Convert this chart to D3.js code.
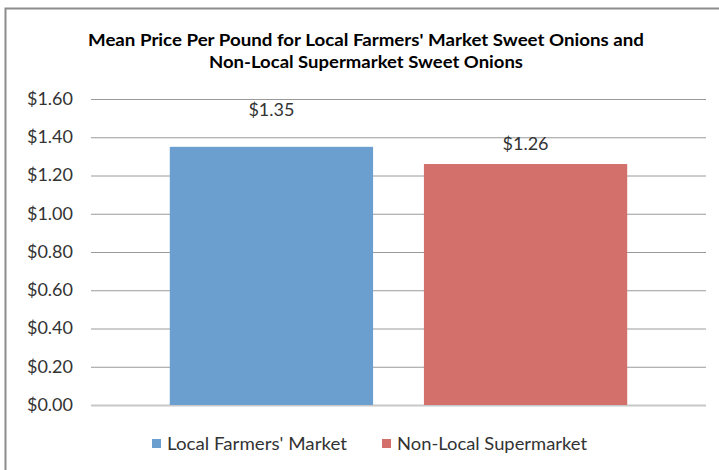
<!DOCTYPE html>
<html>
<head>
<meta charset="utf-8">
<script src="https://cdn.jsdelivr.net/npm/d3@7"></script>
<style>
  body { margin: 0; background: #fff; }
  svg { display: block; font-family: Lato, "Open Sans", sans-serif; }
</style>
</head>
<body>
<svg id="chart" width="719" height="470"></svg>
<script>
// data
let categories = ["Local Farmers' Market", "Non-Local Supermarket"];
let prices = [1.35, 1.26];
let colors = ["#6b9fcf", "#d4706b"];
let yTicks = [0, 0.2, 0.4, 0.6, 0.8, 1.0, 1.2, 1.4, 1.6];
let titleLines = ["Mean Price Per Pound for Local Farmers' Market Sweet Onions and",
                  "Non-Local Supermarket Sweet Onions"];

// styling bits (label offsets above bar tops, text widths to mimic Calibri spacing)
let labelGap = [31, 14];
let titleWidths = [556, 314];
let legendWidths = [180, 190];

let svg = d3.select('#chart');

// outer frame (right and bottom edges fall off the picture)
svg.append('rect')
    .attr('x', 5.5).attr('y', 8.5)
    .attr('width', 740).attr('height', 500)
    .attr('fill', '#fff')
    .attr('stroke', '#8c8c8c')
    .attr('stroke-width', 2);

let plotLeft = 91, plotRight = 706;
let y = d3.scaleLinear().domain([0, 1.6]).range([405, 99]);
let x = d3.scaleBand().domain(categories).range([plotLeft, plotRight])
    .paddingInner(0.2).paddingOuter(0.31);

// title
svg.append('g').selectAll('text')
    .data(titleLines)
    .join('text')
    .attr('x', 366)
    .attr('y', (d, i) => 46 + i * 22)
    .attr('text-anchor', 'middle')
    .attr('font-size', 17)
    .attr('font-weight', 'bold')
    .attr('fill', '#000')
    .attr('textLength', (d, i) => titleWidths[i])
    .attr('lengthAdjust', 'spacingAndGlyphs')
    .text(d => d);

// gridlines + y labels
let yAxis = d3.axisLeft(y)
    .tickValues(yTicks)
    .tickSize(-(plotRight - plotLeft))
    .tickPadding(18)
    .tickFormat(d => '$' + d.toFixed(2));

let gy = svg.append('g')
    .attr('transform', 'translate(' + plotLeft + ',0)')
    .call(yAxis);
gy.select('.domain').remove();
gy.selectAll('.tick line')
    .attr('stroke', d => d === 0 ? '#c8c8c8' : '#9a9a9a')
    .attr('stroke-width', d => d === 0 ? 2 : 1);
gy.selectAll('.tick text')
    .attr('font-size', 16.5)
    .attr('font-family', 'Lato, "Open Sans", sans-serif')
    .attr('fill', '#333')
    .attr('textLength', 46)
    .attr('lengthAdjust', 'spacingAndGlyphs');

// bars
svg.append('g').selectAll('rect')
    .data(prices)
    .join('rect')
    .attr('x', (d, i) => x(categories[i]))
    .attr('y', d => y(d))
    .attr('width', x.bandwidth())
    .attr('height', d => y(0) - y(d))
    .attr('fill', (d, i) => colors[i]);

// value labels
svg.append('g').selectAll('text')
    .data(prices)
    .join('text')
    .attr('x', (d, i) => x(categories[i]) + x.bandwidth() / 2)
    .attr('y', (d, i) => y(d) - labelGap[i])
    .attr('text-anchor', 'middle')
    .attr('font-size', 16.5)
    .attr('fill', '#333')
    .attr('textLength', 46)
    .attr('lengthAdjust', 'spacingAndGlyphs')
    .text(d => '$' + d.toFixed(2));

// legend
let legendX = [152, 382];
let legend = svg.append('g').selectAll('g')
    .data(categories)
    .join('g')
    .attr('transform', (d, i) => 'translate(' + legendX[i] + ',439)');
legend.append('rect')
    .attr('width', 9).attr('height', 9)
    .attr('fill', (d, i) => colors[i]);
legend.append('text')
    .attr('x', 15)
    .attr('y', 11)
    .attr('font-size', 17)
    .attr('fill', '#333')
    .attr('textLength', (d, i) => legendWidths[i])
    .attr('lengthAdjust', 'spacingAndGlyphs')
    .text(d => d);
</script>
</body>
</html>
